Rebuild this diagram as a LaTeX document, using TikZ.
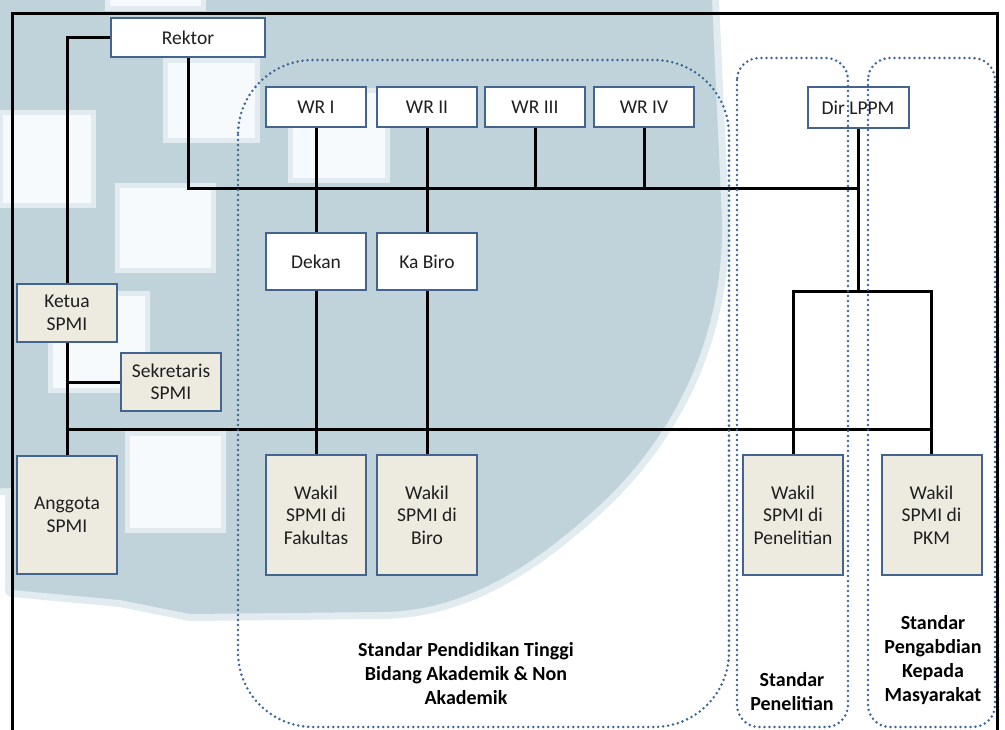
\documentclass[tikz,border=0pt]{standalone}
\usepackage{fontspec}
\setmainfont{Carlito}

\definecolor{wmark}{RGB}{193,211,218}
\definecolor{wmedge}{RGB}{226,236,240}
\definecolor{wmlight}{RGB}{247,250,252}
\definecolor{boxline}{RGB}{66,100,143}
\definecolor{spmifill}{RGB}{237,234,224}
\definecolor{dotline}{RGB}{62,100,148}

\begin{document}
\begin{tikzpicture}[x=1pt, y=-1pt,
    box/.style={draw=boxline, line width=2pt, fill=white, inner sep=0pt,
        minimum width=100pt, minimum height=40pt, align=center,
        text=black!88, font=\fontsize{19.5}{22.5}\selectfont},
    spmi/.style={box, fill=spmifill},
    link/.style={line width=3pt},
    group/.style={draw=dotline, line width=2.8pt, dash pattern=on 0pt off 5pt, line cap=round},
    caption/.style={align=center, font=\bfseries\fontsize{20}{24}\selectfont}]
        \useasboundingbox (0,0) rectangle (1005,729);

        % watermark in the background
        \fill[wmark, preaction={draw=wmedge, line width=14pt, line join=round}]
        (0,0) -- (712,0) -- (722,220)
        .. controls (724,330) and (680,430) .. (600,505)
        .. controls (530,570) and (460,612) .. (380,612)
        -- (190,614) -- (120,600) -- (12,590) -- (12,488) -- (0,488) -- cycle;
        \foreach \xa/\ya/\xb/\yb in {165/60/257/140, 0/112/93/205, 117/185/213/270,
            290/90/387/180, 50/293/147/390, 127/433/223/530, 107/-10/203/8}
            \filldraw[draw=wmedge, line width=5pt, fill=wmlight] (\xa,\ya) rectangle (\xb,\yb);

        % frame
        \draw[link] (12,740) -- (12,13) -- (997,13) -- (997,740);

        \node[box, minimum width=154pt, minimum height=39pt] at (188,37.5)(rektor){Rektor};
        \node[box] at (316,107)(wr1){WR I};
        \node[box] at (427,107)(wr2){WR II};
        \node[box] at (535,107)(wr3){WR III};
        \node[box] at (644,107)(wr4){WR IV};
        \node[box, minimum width=101pt, minimum height=41pt] at (858,107.5)(dir){Dir LPPM};
        \node[box, minimum height=57pt] at (316,261.5)(dekan){Dekan};
        \node[box, minimum height=57pt] at (427,261.5)(kabiro){Ka Biro};
        \node[spmi, minimum height=58pt] at (67,313)(ketua){Ketua\\SPMI};
        \node[spmi, minimum height=58pt] at (171,382)(sekre){Sekretaris\\SPMI};
        \node[spmi, minimum height=118pt] at (67,515)(anggota){Anggota\\SPMI};
        \node[spmi, minimum height=120pt] at (316,515)(wfak){Wakil\\SPMI di\\Fakultas};
        \node[spmi, minimum height=120pt] at (427,515)(wbiro){Wakil\\SPMI di\\Biro};
        \node[spmi, minimum height=120pt] at (793,515)(wpen){Wakil\\SPMI di\\Penelitian};
        \node[spmi, minimum height=120pt] at (931.5,515)(wpkm){Wakil\\SPMI di\\PKM};

        \coordinate (bus1) at (858,188);
        \coordinate (split) at (858,291);
        \coordinate (bus2) at (67,429);

        \draw[link] (rektor.west) -| (ketua.north);
        \draw[link] (rektor.south) |- (bus1) -- (dir.south);
        \draw[link] (wr1.south) -- (dekan.north);
        \draw[link] (wr2.south) -- (kabiro.north);
        \draw[link] (wr3.south) -- (wr3 |- bus1);
        \draw[link] (wr4.south) -- (wr4 |- bus1);
        \draw[link] (bus1) -- (split);
        \draw[link] (wpen.north) |- (split) -| (wpkm.north);
        \draw[link] (ketua.south) -- (anggota.north);
        \draw[link] (sekre.west) -- (sekre.west -| ketua.south);
        \draw[link] (bus2) -- (bus2 -| wpkm.north);
        \draw[link] (dekan.south) -- (wfak.north);
        \draw[link] (kabiro.south) -- (wbiro.north);

        % standard groups
        \draw[group, rounded corners=75pt] (238,60) rectangle (729,727);
        \draw[group, rounded corners=22pt] (737,58) rectangle (848,727);
        \draw[group, rounded corners=22pt] (868,58) rectangle (995,727);

        \node[caption] at (466,674)(spt){Standar Pendidikan Tinggi\\Bidang Akademik \& Non\\Akademik};
        \node[caption] at (792,691.5)(spen){Standar\\Penelitian};
        \node[caption] at (933,660)(spkm){Standar\\Pengabdian\\Kepada\\Masyarakat};
    \end{tikzpicture}
\end{document}
